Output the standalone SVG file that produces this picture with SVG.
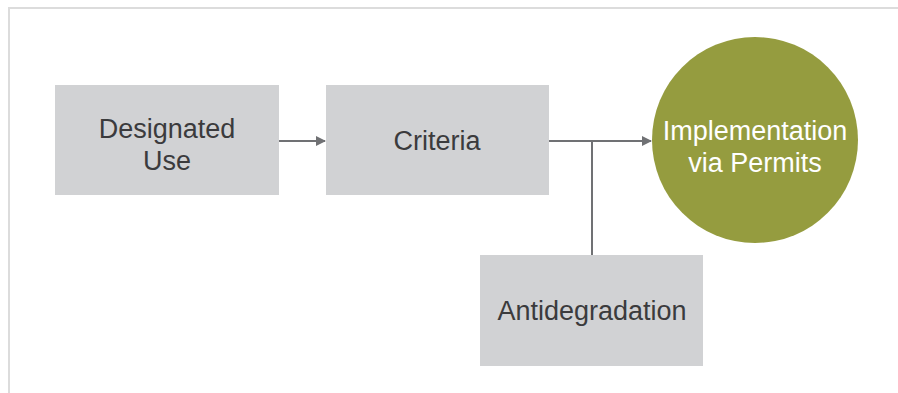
<svg xmlns="http://www.w3.org/2000/svg" width="898" height="393" viewBox="0 0 898 393">
<defs>
<style>
.box{fill:#d1d2d4}
.t{font-family:"Liberation Sans",Arial,sans-serif;font-size:27px;fill:#3b3b3d;text-anchor:middle}
.tw{font-family:"Liberation Sans",Arial,sans-serif;font-size:27px;fill:#ffffff;text-anchor:middle}
.ln{stroke:#707174;stroke-width:2;fill:none}
</style>
<marker id="ah" markerWidth="10" markerHeight="10" refX="9" refY="5" orient="auto" markerUnits="userSpaceOnUse">
<path d="M0,0 L10,5 L0,10 z" fill="#707174"/>
</marker>
</defs>
<rect width="898" height="393" fill="#ffffff"/>
<path d="M9,393 V8 H898" stroke="#dcdcdc" stroke-width="2" fill="none"/>
<g id="connectors">
<line class="ln" x1="279" y1="141" x2="325" y2="141" marker-end="url(#ah)"/>
<line class="ln" x1="549" y1="141" x2="651" y2="141" marker-end="url(#ah)"/>
<line class="ln" x1="592" y1="141" x2="592" y2="255"/>
</g>
<g id="designated-use">
<rect class="box" x="55" y="85" width="224" height="110"/>
<text class="t" x="167" y="138">Designated</text>
<text class="t" x="167" y="170">Use</text>
</g>
<g id="criteria">
<rect class="box" x="326" y="85" width="223" height="110"/>
<text class="t" x="437" y="150">Criteria</text>
</g>
<g id="antidegradation">
<rect class="box" x="480" y="255" width="223" height="111"/>
<text class="t" x="592" y="320">Antidegradation</text>
</g>
<g id="implementation">
<circle cx="755" cy="140" r="103" fill="#959c3f"/>
<text class="tw" x="755" y="140">Implementation</text>
<text class="tw" x="755" y="172">via Permits</text>
</g>
</svg>
